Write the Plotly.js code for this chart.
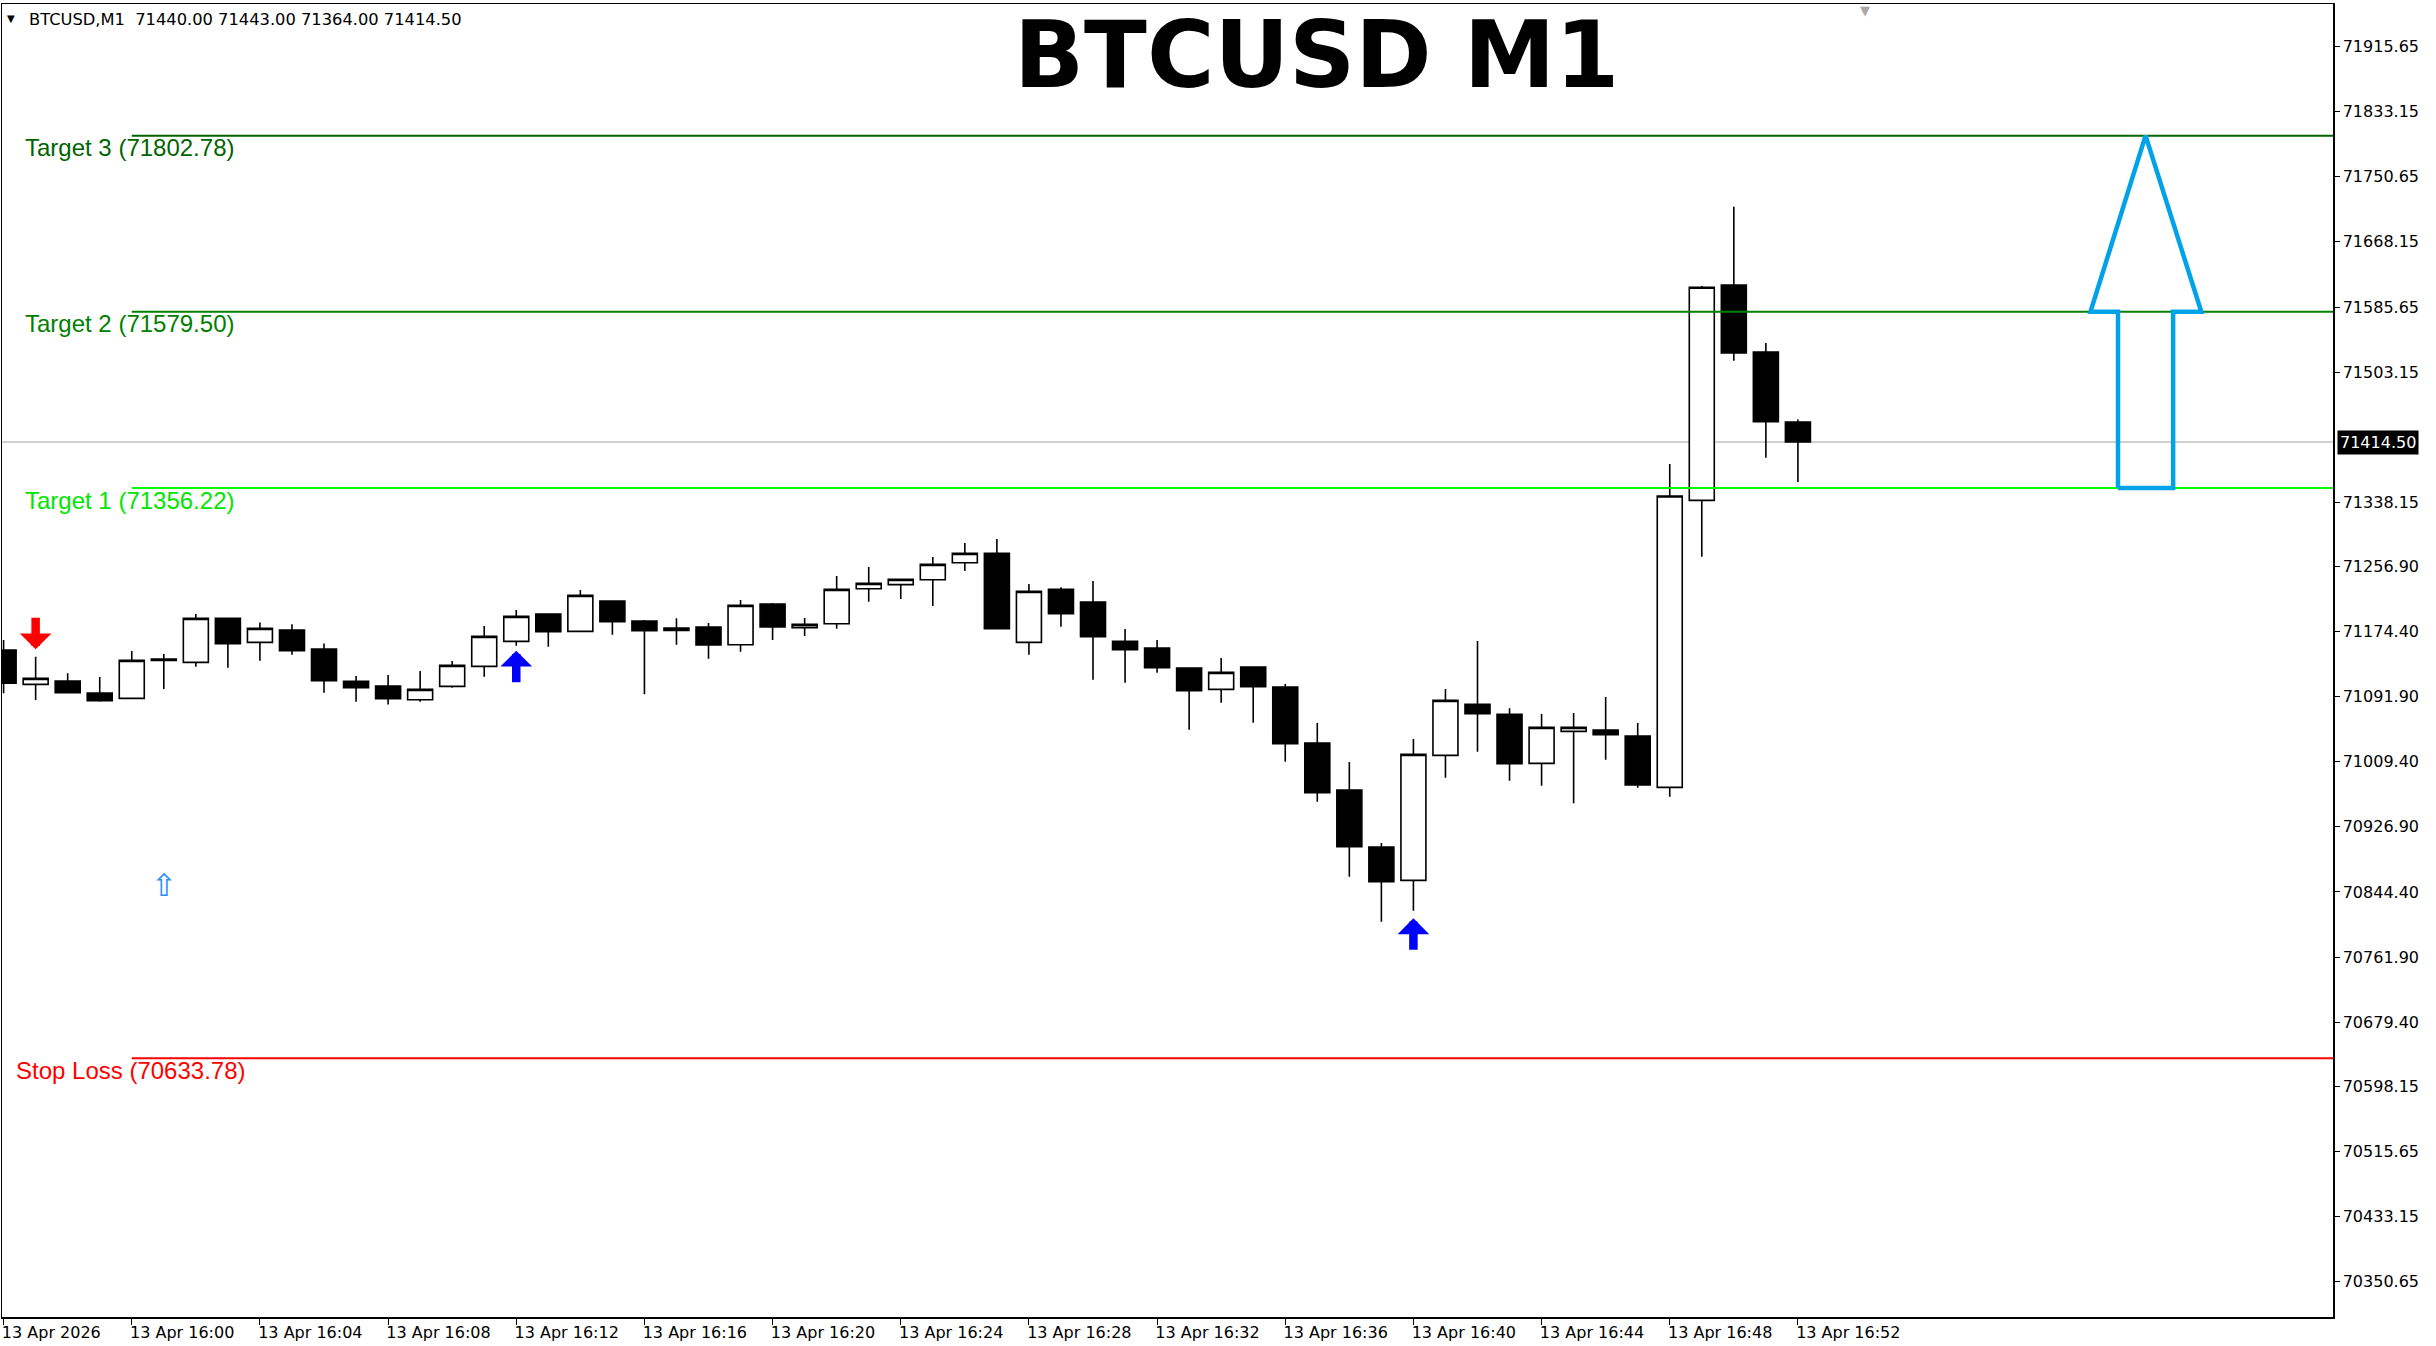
<!DOCTYPE html>
<html><head><meta charset="utf-8">
<script src="https://cdn.plot.ly/plotly-3.0.1.min.js"></script>
<style>html,body{margin:0;padding:0;background:#fff;} #chart{width:2436px;height:1346px;}</style>
</head><body><div id="chart"></div>
<script>
const symbol = 'BTCUSD';
const timeframe = 'M1';
const times = ['15:56','15:57','15:58','15:59','16:00','16:01','16:02','16:03','16:04','16:05',
  '16:06','16:07','16:08','16:09','16:10','16:11','16:12','16:13','16:14','16:15',
  '16:16','16:17','16:18','16:19','16:20','16:21','16:22','16:23','16:24','16:25',
  '16:26','16:27','16:28','16:29','16:30','16:31','16:32','16:33','16:34','16:35',
  '16:36','16:37','16:38','16:39','16:40','16:41','16:42','16:43','16:44','16:45',
  '16:46','16:47','16:48','16:49','16:50','16:51','16:52'];
const opens = [71150.9, 71107.4, 71111.7, 71096.5, 71089.7, 71139.5, 71135.3, 71191.1, 71160.7, 71176.3,
  71152.2, 71111.2, 71105.3, 71088.0, 71104.9, 71130.2, 71161.9, 71196.6, 71174.6, 71213.0,
  71187.7, 71175.9, 71180.1, 71157.7, 71209.2, 71179.3, 71184.3, 71228.7, 71233.8, 71240.1,
  71261.6, 71273.5, 71160.7, 71227.8, 71211.8, 71161.9, 71153.5, 71128.1, 71101.1, 71129.4,
  71104.1, 71033.1, 70973.6, 70901.3, 70859.1, 71017.5, 71082.1, 71069.5, 71007.4, 71047.9,
  71049.6, 71042.0, 70976.9, 71340.6, 71613.5, 71528.6, 71440.00];
const highs = [71163.6, 71142.5, 71121.4, 71116.7, 71149.7, 71145.9, 71196.6, 71191.5, 71186.0, 71183.5,
  71159.4, 71118.0, 71119.3, 71124.3, 71137.0, 71181.4, 71201.6, 71197.0, 71227.0, 71213.5,
  71189.0, 71191.1, 71185.2, 71214.3, 71210.5, 71191.5, 71244.7, 71256.1, 71240.5, 71268.8,
  71286.6, 71291.6, 71234.6, 71230.4, 71238.4, 71177.6, 71163.6, 71128.5, 71140.8, 71129.8,
  71107.9, 71058.5, 71009.0, 70906.4, 71038.2, 71101.6, 71162.4, 71077.1, 71069.9, 71071.1,
  71091.4, 71058.4, 71386.7, 71612.2, 71712.8, 71540.0, 71443.00];
const lows = [71096.1, 71087.6, 71096.0, 71085.5, 71089.0, 71101.5, 71129.8, 71128.6, 71137.4, 71145.0,
  71096.9, 71085.5, 71082.1, 71085.5, 71103.2, 71117.2, 71156.4, 71155.2, 71174.0, 71170.4,
  71094.8, 71157.7, 71140.0, 71148.8, 71163.6, 71168.7, 71178.0, 71212.2, 71215.6, 71206.7,
  71251.1, 71178.0, 71145.0, 71180.5, 71113.4, 71109.6, 71122.2, 71050.0, 71084.2, 71058.9,
  71009.5, 70958.8, 70863.7, 70806.7, 70820.6, 70989.2, 71022.1, 70985.4, 70979.1, 70956.7,
  71012.0, 70976.5, 70965.1, 71269.2, 71517.6, 71394.7, 71364.00];
const closes = [71108.8, 71115.1, 71096.9, 71086.7, 71137.9, 71137.9, 71191.1, 71159.0, 71178.4, 71150.1,
  71112.1, 71103.2, 71089.3, 71101.1, 71131.5, 71168.3, 71193.6, 71174.2, 71220.2, 71186.9,
  71175.5, 71178.8, 71157.3, 71207.6, 71180.1, 71183.5, 71227.8, 71235.4, 71240.5, 71259.5,
  71273.5, 71178.0, 71225.3, 71197.0, 71167.9, 71151.4, 71128.6, 71099.4, 71122.6, 71104.5,
  71032.3, 70970.2, 70901.7, 70857.4, 71018.8, 71087.2, 71070.3, 71006.9, 71053.0, 71053.0,
  71043.7, 70979.9, 71346.1, 71610.6, 71527.3, 71440.3, 71414.50];

const levelNames = ['Target 3', 'Target 2', 'Target 1', 'Stop Loss'];
const levelPrices = [71802.78, 71579.50, 71356.22, 70633.78];
const levelStartTime = '16:00';
const currentPrice = 71414.50;

const yTickValues = [71915.65, 71833.15, 71750.65, 71668.15, 71585.65, 71503.15, 71338.15, 71256.90,
  71174.40, 71091.90, 71009.40, 70926.90, 70844.40, 70761.90, 70679.40, 70598.15, 70515.65, 70433.15, 70350.65];
const xTickTimes = ['15:56','16:00','16:04','16:08','16:12','16:16','16:20','16:24','16:28','16:32',
  '16:36','16:40','16:44','16:48','16:52'];
const xTickLabels = ['13 Apr 2026','13 Apr 16:00','13 Apr 16:04','13 Apr 16:08','13 Apr 16:12','13 Apr 16:16',
  '13 Apr 16:20','13 Apr 16:24','13 Apr 16:28','13 Apr 16:32','13 Apr 16:36','13 Apr 16:40',
  '13 Apr 16:44','13 Apr 16:48','13 Apr 16:52'];

const sellSignalTimes = ['15:57'];
const sellSignalPrices = [71152];
const buySignalTimes = ['16:12', '16:40'];
const buySignalPrices = [71150, 70811];
const hollowArrowTimes = ['16:01'];
const hollowArrowPrices = [70853];
// big projection arrow, minutes after 16:00
const bigArrowShaftMinutes = [61.99, 63.71];
const bigArrowHeadMinutes = [61.13, 62.85, 64.59];
// chart-shift marker, minutes after 16:00
const chartShiftMinute = 54.1;

// ---------- helpers / style ----------
function toMin(t) { const p = t.split(':'); return (+p[0]) * 60 + (+p[1]) - 960; }
const X = times.map(toMin);
const xRange = [-4.05, 68.70];
const yRange = [70305.8, 71969.6];
const levelLineColors = ['#006400', '#008000', '#00ff00', '#ff0000'];
const levelTextColors = ['#006400', '#008000', '#00e600', '#ff0000'];
const levelLabelShift = [21, 21, 21, 12];

const traces = [];
levelPrices.forEach((p, i) => {
  traces.push({type: 'scatter', mode: 'lines', x: [toMin(levelStartTime), xRange[1]], y: [p, p],
    line: {color: levelLineColors[i], width: 2}, hoverinfo: 'skip', showlegend: false});
});
traces.push({
  type: 'candlestick', x: X, open: opens, high: highs, low: lows, close: closes,
  increasing: {line: {color: '#000000', width: 1.6}, fillcolor: '#ffffff'},
  decreasing: {line: {color: '#000000', width: 1.6}, fillcolor: '#000000'},
  whiskerwidth: 0, hoverinfo: 'skip', showlegend: false
});
const T1 = levelPrices[2], T2 = levelPrices[1], T3 = levelPrices[0];
traces.push({
  type: 'scatter', mode: 'lines',
  x: [bigArrowShaftMinutes[0], bigArrowShaftMinutes[1], bigArrowShaftMinutes[1], bigArrowHeadMinutes[2],
      bigArrowHeadMinutes[1], bigArrowHeadMinutes[0], bigArrowShaftMinutes[0], bigArrowShaftMinutes[0]],
  y: [T1, T1, T2, T2, T3, T2, T2, T1],
  line: {color: '#00a2e8', width: 4.5}, hoverinfo: 'skip', showlegend: false
});

const annotations = [];
// header
annotations.push({xref: 'paper', yref: 'paper', x: 0, y: 1, xanchor: 'center', yanchor: 'middle',
  xshift: 9, yshift: -14, text: '▼', showarrow: false, font: {family: 'DejaVu Sans', size: 10, color: '#000'}});
const n = opens.length - 1;
annotations.push({xref: 'paper', yref: 'paper', x: 0, y: 1, xanchor: 'left', yanchor: 'middle',
  xshift: 25, yshift: -15, showarrow: false,
  text: symbol + ',' + timeframe + '  ' + [opens[n], highs[n], lows[n], closes[n]].map(v => v.toFixed(2)).join(' '),
  font: {family: 'DejaVu Sans', size: 16.3, color: '#000'}});
// chart shift marker
annotations.push({xref: 'x', yref: 'paper', x: chartShiftMinute, y: 1, xanchor: 'center', yanchor: 'top',
  yshift: 3, showarrow: false, text: '▼', font: {family: 'DejaVu Sans', size: 13, color: '#a8a8a8'}});
// title
annotations.push({xref: 'paper', yref: 'paper', x: 0.5641, y: 1, xanchor: 'center', yanchor: 'top',
  yshift: 4, showarrow: false, text: '<b>' + symbol + ' ' + timeframe + '</b>',
  font: {family: 'DejaVu Sans', size: 92, color: '#000'}});
// level labels
levelPrices.forEach((p, i) => {
  annotations.push({xref: 'paper', yref: 'y', x: 0, y: p, xanchor: 'left', yanchor: 'middle',
    xshift: levelLabelShift[i], yshift: -12, showarrow: false,
    text: levelNames[i] + ' (' + p.toFixed(2) + ')',
    font: {family: 'Liberation Sans, Arial', size: 24, color: levelTextColors[i]}});
});
// current price tag
annotations.push({xref: 'paper', yref: 'y', x: 1, y: currentPrice, xanchor: 'left', yanchor: 'middle',
  xshift: 4, showarrow: false, text: currentPrice.toFixed(2), bgcolor: '#000', borderpad: 2,
  font: {family: 'DejaVu Sans', size: 16, color: '#fff'}});
// signal arrows
sellSignalTimes.forEach((t, i) => {
  annotations.push({x: toMin(t), y: sellSignalPrices[i], xref: 'x', yref: 'y', text: '', showarrow: true,
    arrowhead: 1, arrowsize: 0.62, arrowwidth: 8.5, arrowcolor: '#ff0000', ax: 0, ay: -33, standoff: 0});
});
buySignalTimes.forEach((t, i) => {
  annotations.push({x: toMin(t), y: buySignalPrices[i], xref: 'x', yref: 'y', text: '', showarrow: true,
    arrowhead: 1, arrowsize: 0.62, arrowwidth: 8.5, arrowcolor: '#0000ff', ax: 0, ay: 33, standoff: 0});
});
hollowArrowTimes.forEach((t, i) => {
  annotations.push({x: toMin(t), y: hollowArrowPrices[i], xref: 'x', yref: 'y', text: '⇧', showarrow: false,
    font: {family: 'DejaVu Sans', size: 31, color: '#2b8cff'}});
});

const layout = {
  width: 2436, height: 1346,
  margin: {l: 2, r: 103, t: 4, b: 29, pad: 0},
  paper_bgcolor: '#ffffff', plot_bgcolor: '#ffffff',
  showlegend: false, hovermode: false,
  boxgap: 0.22, boxgroupgap: 0,
  xaxis: {
    type: 'linear', range: xRange, fixedrange: true,
    rangeslider: {visible: false},
    tickvals: xTickTimes.map(toMin), ticktext: xTickLabels,
    ticks: 'outside', ticklen: 6, tickcolor: '#000', tickwidth: 1,
    ticklabelposition: 'outside right', ticklabelshift: -3,
    tickfont: {family: 'DejaVu Sans', size: 16, color: '#000'},
    showgrid: false, zeroline: false,
    showline: true, mirror: true, linecolor: '#000', linewidth: 1.5
  },
  yaxis: {
    range: yRange, side: 'right', fixedrange: true,
    tickvals: yTickValues, ticktext: yTickValues.map(v => v.toFixed(2)),
    ticks: 'outside', ticklen: 5, tickcolor: '#000', tickwidth: 1,
    tickfont: {family: 'DejaVu Sans', size: 16, color: '#000'},
    showgrid: false, zeroline: false,
    showline: true, mirror: true, linecolor: '#000', linewidth: 1.5
  },
  shapes: [
    {type: 'line', xref: 'paper', yref: 'y', x0: 0, x1: 1, y0: currentPrice, y1: currentPrice,
      line: {color: '#c0c0c0', width: 1.5}, layer: 'below'}
  ],
  annotations: annotations
};

Plotly.newPlot('chart', traces, layout, {staticPlot: true, displayModeBar: false});
</script>
</body></html>
